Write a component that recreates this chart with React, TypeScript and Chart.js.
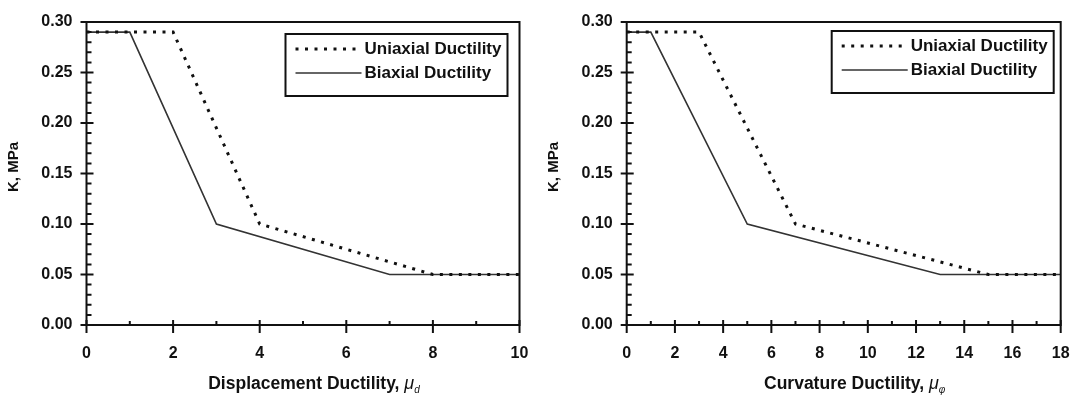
import { useEffect, useRef } from "react";
import { Chart, registerables } from "chart.js";

Chart.register(...registerables);

const FONT = "'Liberation Sans', Arial, Helvetica, sans-serif";
const INK = "#111111";
const SOLID = "#333333";

// Series names and axis labels
const seriesNames = ["Uniaxial Ductility", "Biaxial Ductility"];
const yTitle = "K, MPa";
const dispTitle = "Displacement Ductility";
const dispSymbolSub = "d";
const curvTitle = "Curvature Ductility";
const curvSymbolSub = "\u03c6";

// Displacement ductility panel
const dispUniaxialX = [0, 2, 4, 8, 10];
const dispUniaxialK = [0.29, 0.29, 0.1, 0.05, 0.05];
const dispBiaxialX = [0, 1, 3, 7, 10];
const dispBiaxialK = [0.29, 0.29, 0.1, 0.05, 0.05];
const dispTicksX = [0, 2, 4, 6, 8, 10];

// Curvature ductility panel
const curvUniaxialX = [0, 3, 7, 15, 18];
const curvUniaxialK = [0.29, 0.29, 0.1, 0.05, 0.05];
const curvBiaxialX = [0, 1, 5, 13, 18];
const curvBiaxialK = [0.29, 0.29, 0.1, 0.05, 0.05];
const curvTicksX = [0, 2, 4, 6, 8, 10, 12, 14, 16, 18];

// Shared stiffness axis
const kTicks = [0, 0.05, 0.1, 0.15, 0.2, 0.25, 0.3];
const kMinorStep = 0.01;

type PanelProps = {
  uniX: number[];
  uniK: number[];
  biX: number[];
  biK: number[];
  xTicks: number[];
  xTitle: string;
  xSub: string;
  width: number;
  plotLeft: number;
  plotRight: number;
  legendInsetRight: number;
  legendInsetTop: number;
};

const CANVAS_H = 399;
const PLOT_TOP = 22;
const PLOT_BOTTOM = 325;
const UNI_DASH = [3, 6.5];

function pairs(xs: number[], ys: number[]) {
  return xs.map((x, i) => ({ x, y: ys[i] }));
}

function Panel(p: PanelProps) {
  const ref = useRef<HTMLCanvasElement | null>(null);

  useEffect(() => {
    const canvas = ref.current;
    if (!canvas) return;

    const xMin = p.xTicks[0];
    const xMax = p.xTicks[p.xTicks.length - 1];
    const xStep = p.xTicks[1] - p.xTicks[0];

    const decorations = {
      id: "frameTicksLegend",
      afterDatasetsDraw(chart: Chart) {
        const ctx = chart.ctx;
        const area = chart.chartArea;
        const xs = chart.scales.x;
        const ys = chart.scales.y;
        ctx.save();

        // frame
        ctx.strokeStyle = INK;
        ctx.lineWidth = 2;
        ctx.strokeRect(area.left, area.top, area.right - area.left, area.bottom - area.top);

        // y ticks: majors cross the axis, minors point inward
        ctx.lineWidth = 2;
        ctx.beginPath();
        for (const v of kTicks) {
          const py = ys.getPixelForValue(v);
          ctx.moveTo(area.left - 6, py);
          ctx.lineTo(area.left + 7, py);
        }
        const kMax = kTicks[kTicks.length - 1];
        for (let i = 1; i * kMinorStep < kMax - 1e-9; i++) {
          if (i % 5 === 0) continue;
          const py = ys.getPixelForValue(i * kMinorStep);
          ctx.moveTo(area.left, py);
          ctx.lineTo(area.left + 5, py);
        }
        // x ticks
        for (const v of p.xTicks) {
          const px = xs.getPixelForValue(v);
          ctx.moveTo(px, area.bottom - 5);
          ctx.lineTo(px, area.bottom + 8);
        }
        for (let i = 0; i < p.xTicks.length - 1; i++) {
          const px = xs.getPixelForValue(p.xTicks[i] + xStep / 2);
          ctx.moveTo(px, area.bottom - 4);
          ctx.lineTo(px, area.bottom);
        }
        ctx.stroke();

        // legend box
        const boxW = 222;
        const boxH = 62;
        const bx = area.right - p.legendInsetRight - boxW;
        const by = area.top + p.legendInsetTop;
        ctx.fillStyle = "#ffffff";
        ctx.fillRect(bx, by, boxW, boxH);
        ctx.lineWidth = 2;
        ctx.strokeStyle = INK;
        ctx.strokeRect(bx, by, boxW, boxH);

        const rows = [by + 15, by + 39];
        // dotted sample
        ctx.save();
        ctx.lineWidth = 3;
        ctx.setLineDash(UNI_DASH);
        ctx.strokeStyle = INK;
        ctx.beginPath();
        ctx.moveTo(bx + 10, rows[0]);
        ctx.lineTo(bx + 72, rows[0]);
        ctx.stroke();
        ctx.restore();
        // solid sample
        ctx.lineWidth = 1.6;
        ctx.strokeStyle = SOLID;
        ctx.beginPath();
        ctx.moveTo(bx + 10, rows[1]);
        ctx.lineTo(bx + 76, rows[1]);
        ctx.stroke();

        ctx.fillStyle = INK;
        ctx.font = `bold 17px ${FONT}`;
        ctx.textAlign = "left";
        ctx.textBaseline = "middle";
        ctx.fillText(seriesNames[0], bx + 79, rows[0]);
        ctx.fillText(seriesNames[1], bx + 79, rows[1]);

        // x axis title with subscripted symbol
        const mainText = p.xTitle + ", ";
        ctx.textBaseline = "alphabetic";
        ctx.font = `bold 17.5px ${FONT}`;
        const wMain = ctx.measureText(mainText).width;
        ctx.font = `italic 18px ${FONT}`;
        const wMu = ctx.measureText("\u03bc").width;
        ctx.font = `italic 10px ${FONT}`;
        const wSub = ctx.measureText(p.xSub).width;
        const cx = (area.left + area.right) / 2 + 11;
        const baseY = 389;
        let tx = cx - (wMain + wMu + wSub) / 2;
        ctx.font = `bold 17.5px ${FONT}`;
        ctx.fillText(mainText, tx, baseY);
        tx += wMain;
        ctx.font = `italic 18px ${FONT}`;
        ctx.fillText("\u03bc", tx, baseY);
        tx += wMu;
        ctx.font = `italic 10px ${FONT}`;
        ctx.fillText(p.xSub, tx, baseY + 4);

        // y axis title
        ctx.save();
        ctx.translate(13.5, 167);
        ctx.rotate(-Math.PI / 2);
        ctx.font = `bold 15px ${FONT}`;
        ctx.textAlign = "center";
        ctx.textBaseline = "middle";
        ctx.fillText(yTitle, 0, 0);
        ctx.restore();

        ctx.restore();
      },
    };

    const chart = new Chart(canvas, {
      type: "line",
      data: {
        datasets: [
          {
            label: seriesNames[0],
            data: pairs(p.uniX, p.uniK),
            borderColor: INK,
            borderWidth: 3,
            borderDash: UNI_DASH,
            pointRadius: 0,
            fill: false,
            tension: 0,
          },
          {
            label: seriesNames[1],
            data: pairs(p.biX, p.biK),
            borderColor: SOLID,
            borderWidth: 1.6,
            pointRadius: 0,
            fill: false,
            tension: 0,
          },
        ],
      },
      options: {
        responsive: false,
        maintainAspectRatio: false,
        animation: false,
        events: [],
        layout: {
          padding: {
            left: 0,
            top: PLOT_TOP,
            right: p.width - p.plotRight,
            bottom: 0,
          },
        },
        plugins: {
          legend: { display: false },
          tooltip: { enabled: false },
          title: { display: false },
        },
        scales: {
          x: {
            type: "linear",
            min: xMin,
            max: xMax,
            afterFit: (s: any) => {
              s.height = CANVAS_H - PLOT_BOTTOM;
              s.paddingLeft = 0;
              s.paddingRight = 0;
            },
            afterBuildTicks: (s: any) => {
              s.ticks = p.xTicks.map((v) => ({ value: v }));
            },
            grid: { display: false, drawTicks: false, tickLength: 0 },
            border: { display: false },
            ticks: {
              color: INK,
              padding: 19,
              maxRotation: 0,
              autoSkip: false,
              font: { family: FONT, size: 16, weight: "bold" },
              callback: (v: any) => String(v),
            },
          },
          y: {
            type: "linear",
            min: kTicks[0],
            max: kTicks[kTicks.length - 1],
            afterFit: (s: any) => {
              s.width = p.plotLeft;
              s.paddingTop = 0;
              s.paddingBottom = 0;
            },
            afterBuildTicks: (s: any) => {
              s.ticks = kTicks.map((v) => ({ value: v }));
            },
            grid: { display: false, drawTicks: false, tickLength: 0 },
            border: { display: false },
            ticks: {
              color: INK,
              padding: 14,
              autoSkip: false,
              font: { family: FONT, size: 16, weight: "bold" },
              callback: (v: any) => Number(v).toFixed(2),
            },
          },
        },
      },
      plugins: [decorations],
    });

    return () => chart.destroy();
  }, []);

  return (
    <canvas
      ref={ref}
      width={p.width}
      height={CANVAS_H}
      style={{ display: "block", width: p.width, height: CANVAS_H }}
    />
  );
}

export default function App() {
  return (
    <div
      style={{
        position: "absolute",
        left: 0,
        top: 0,
        width: 1078,
        height: CANVAS_H,
        background: "#ffffff",
        display: "flex",
      }}
    >
      <Panel
        uniX={dispUniaxialX}
        uniK={dispUniaxialK}
        biX={dispBiaxialX}
        biK={dispBiaxialK}
        xTicks={dispTicksX}
        xTitle={dispTitle}
        xSub={dispSymbolSub}
        width={540}
        plotLeft={86.5}
        plotRight={519.5}
        legendInsetRight={12}
        legendInsetTop={12}
      />
      <Panel
        uniX={curvUniaxialX}
        uniK={curvUniaxialK}
        biX={curvBiaxialX}
        biK={curvBiaxialK}
        xTicks={curvTicksX}
        xTitle={curvTitle}
        xSub={curvSymbolSub}
        width={538}
        plotLeft={86.7}
        plotRight={520.7}
        legendInsetRight={7}
        legendInsetTop={9}
      />
    </div>
  );
}
